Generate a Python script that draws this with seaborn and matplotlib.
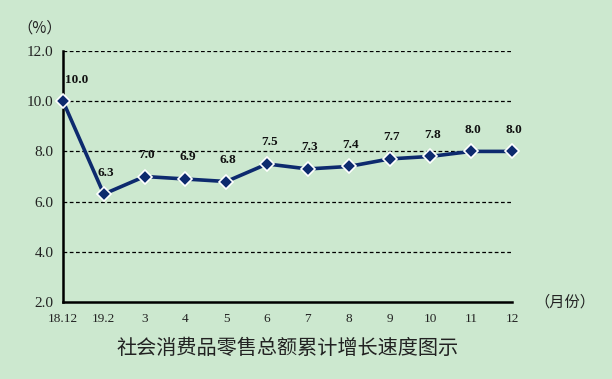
import matplotlib
matplotlib.use('Agg')
import matplotlib.pyplot as plt
import seaborn as sns
import pandas as pd

months = ['18.12', '19.2', '3', '4', '5', '6', '7', '8', '9', '10', '11', '12']
growth = [10.0, 6.3, 7.0, 6.9, 6.8, 7.5, 7.3, 7.4, 7.7, 7.8, 8.0, 8.0]
yticks = [2.0, 4.0, 6.0, 8.0, 10.0, 12.0]

bg = '#cce8cf'
navy = '#0d2a6e'

sns.set_theme(style='white')
plt.rcParams['font.family'] = ['Liberation Serif', 'Noto Sans CJK SC', 'DejaVu Sans']

df = pd.DataFrame({'pos': range(len(months)), 'val': growth})

fig = plt.figure(figsize=(6.12, 3.79), dpi=100, facecolor=bg)
ax = fig.add_axes([63/612, 1-302/379, (512-63)/612, (302-51)/379])
ax.set_facecolor(bg)

# dashed gridlines
for y in yticks[1:]:
    ax.axhline(y, color='black', lw=0.9, ls=(0, (3, 2)), zorder=1)

sns.lineplot(data=df, x='pos', y='val', ax=ax, color=navy, lw=2.6,
             marker='D', markersize=7, markeredgecolor='white',
             markeredgewidth=1.2, zorder=3, clip_on=False)

for i, v in enumerate(growth):
    ax.text(i + 0.06 if i == 0 else i + 0.05, v + 0.62, f'{v:.1f}',
            ha='left' if i == 0 else 'center', va='bottom',
            fontsize=9.5, fontweight='bold', color='#111111')

ax.set_xlim(0, len(months) - 1)
ax.set_ylim(2, 12)
ax.set_yticks(yticks)
ax.set_yticklabels([f'{t:.1f}' for t in yticks], fontsize=11, color='#222222')
ax.set_xticks(range(len(months)))
ax.set_xticklabels(months, fontsize=9.5, color='#222222')
ax.tick_params(axis='x', pad=8, length=0)
ax.tick_params(axis='y', pad=7, length=0)
ax.set_xlabel('')
ax.set_ylabel('')
for s in ['top', 'right']:
    ax.spines[s].set_visible(False)
for s in ['left', 'bottom']:
    ax.spines[s].set_color('black')
    ax.spines[s].set_linewidth(1.8)

fig.text(40/612, 1-28/379, '（%）', ha='center', va='center', fontsize=11,
         family=['Noto Sans CJK SC', 'DejaVu Sans'], color='#222222')
fig.text(565/612, 1-302/379, '（月份）', ha='center', va='center', fontsize=11,
         family=['Noto Sans CJK SC', 'DejaVu Sans'], color='#222222')
fig.text(288/612, 1-349/379, '社会消费品零售总额累计增长速度图示', ha='center', va='center',
         fontsize=14.5, family=['Noto Sans CJK SC', 'DejaVu Sans'], color='#222222')

fig.savefig('out.png', dpi=100, facecolor=bg)
